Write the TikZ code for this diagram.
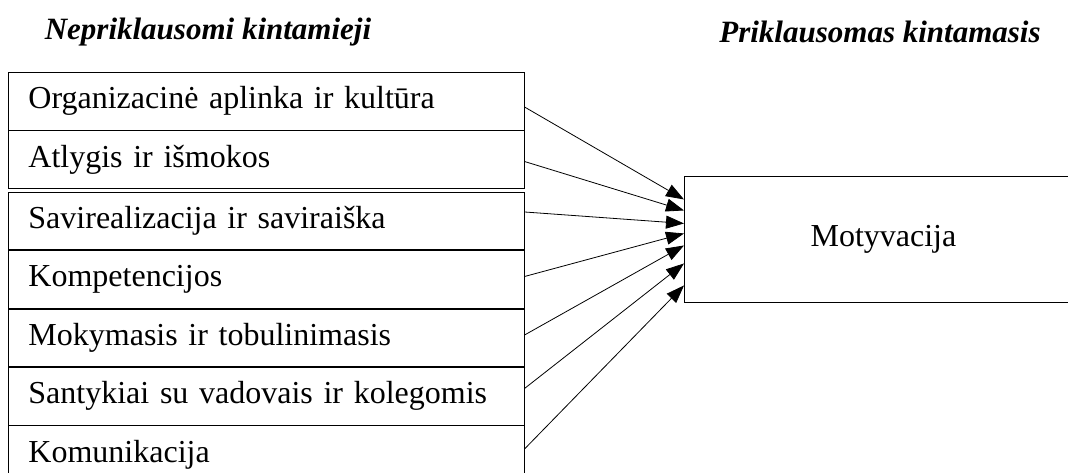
\documentclass[tikz,border=0pt]{standalone}
\usepackage{fontspec}
\setmainfont{Liberation Serif}
\usepackage{tikz}
\usetikzlibrary{positioning}
\usetikzlibrary{arrows.meta}

\begin{document}
\begin{tikzpicture}[x=1pt, y=-1pt,
    rowbox/.style={draw, line width=0.9pt, text width=476pt, inner xsep=20pt, minimum height=57.5pt, align=left, font=\fontsize{32}{36}\selectfont},
    mainbox/.style={draw, line width=0.9pt, minimum width=398pt, minimum height=126pt, font=\fontsize{32}{36}\selectfont},
    headnode/.style={font=\fontsize{31}{36}\selectfont\bfseries\itshape},
    arr/.style={-{Triangle[length=18pt,width=13pt]}, line width=0.8pt}]
            \useasboundingbox (0,0) rectangle (1068,472);
            %Nodes
            \node[headnode]  (nepr)   at (208,32)   {Nepriklausomi kintamieji};
            \node[headnode]  (prikl)  at (880,32)   {Priklausomas kintamasis};
            \node[rowbox, anchor=north west]  (org)  at (8,72)  {Organizacinė aplinka ir kultūra};
            \node[rowbox]  (atl)    [below=0pt of org]    {Atlygis ir išmokos};
            \node[rowbox]  (sav)    [below=3pt of atl]    {Savirealizacija ir saviraiška};
            \node[rowbox]  (komp)   [below=0pt of sav]    {Kompetencijos};
            \node[rowbox]  (mok)    [below=0pt of komp]   {Mokymasis ir tobulinimasis};
            \node[rowbox]  (sant)   [below=0pt of mok]    {Santykiai su vadovais ir kolegomis};
            \node[rowbox]  (komun)  [below=0pt of sant]   {Komunikacija};
            \node[mainbox, anchor=north west]  (motiv)  at (684,176)  {Motyvacija};
            %Arrows
            \draw[arr] ([yshift=-6pt]org.east)  -- ([yshift=40pt]motiv.west);
            \draw[arr] ([yshift=-2pt]atl.east)  -- ([yshift=29pt]motiv.west);
            \draw[arr] ([yshift=9pt]sav.east)   -- ([yshift=16pt]motiv.west);
            \draw[arr] ([yshift=3pt]komp.east)  -- ([yshift=6pt]motiv.west);
            \draw[arr] ([yshift=3pt]mok.east)   -- ([yshift=-6pt]motiv.west);
            \draw[arr] ([yshift=8pt]sant.east)  -- ([yshift=-24pt]motiv.west);
            \draw[arr] ([yshift=6pt]komun.east) -- ([yshift=-46pt]motiv.west);
        \end{tikzpicture}
\end{document}
